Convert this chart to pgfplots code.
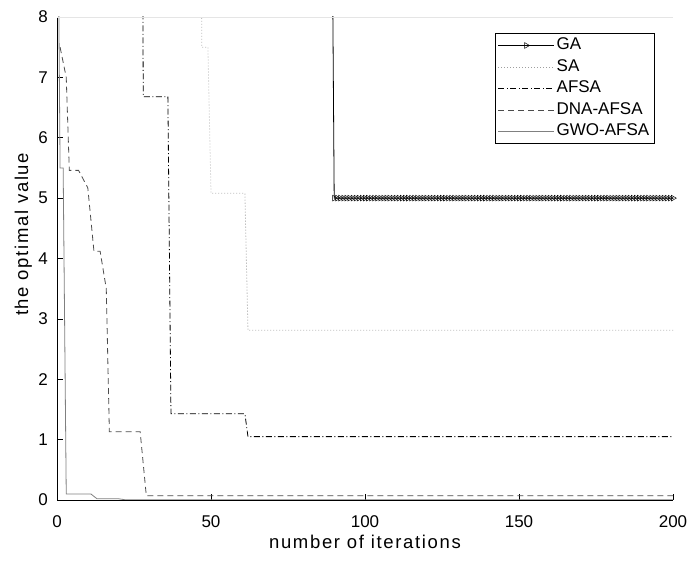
\documentclass[border=0pt]{standalone}
\usepackage{fontspec}
\setmainfont{Liberation Sans}
\newfontfamily\labfont[LetterSpace=9]{Liberation Sans}
\usepackage{pgfplots}
\pgfplotsset{compat=1.18}

\definecolor{dnagray}{gray}{0.3}
\definecolor{gwogray}{gray}{0.5}
\definecolor{sagray}{gray}{0.62}

\begin{document}
\begin{tikzpicture}
\begin{axis}[
  name=ax,
  scale only axis,
  width=616pt, height=483pt,
  xmin=0, xmax=200, ymin=0, ymax=8,
  xtick={0,50,...,200}, ytick={0,1,...,8},
  axis x line*=bottom, axis y line*=left,
  axis line style={-, black, line width=0.6pt},
  tick align=inside, major tick length=6pt,
  tick style={black, line width=0.6pt},
  /pgf/number format/assume math mode=true,
  ticklabel style={font=\fontsize{17}{19}\selectfont},
  xticklabel style={anchor=base, yshift=-28pt},
  yticklabel style={anchor=east, inner sep=0pt, xshift=-9pt},
  xlabel={number of iterations},
  ylabel={the optimal value},
  label style={font=\fontsize{18.5}{20}\labfont},
  xlabel style={at={(axis description cs:0.5,-0.0994)}, anchor=base},
  ylabel style={at={(axis description cs:-0.047,0.55)}, anchor=base},
  legend style={at={(axis description cs:0.97,0.967)}, anchor=north east,
    draw=black, line width=0.6pt, inner xsep=3pt, inner ysep=3pt,
    font=\fontsize{17}{19}\selectfont, row sep=3pt,
    nodes={inner sep=2pt, text height=11.5pt, text depth=3pt}},
  legend cell align=left,
  legend image code/.code={\draw[mark repeat=2,mark phase=2,#1]
    plot coordinates {(0pt,0pt)(28pt,0pt)(56pt,0pt)};},
]
% GA
\addplot[black, line width=0.8pt, mark=triangle, mark size=3.3pt,
  mark options={solid, rotate=-90, line width=0.5pt}] coordinates {
  (0,12)(89,12)
  (90,5)(91,5)(92,5)(93,5)(94,5)(95,5)(96,5)(97,5)(98,5)(99,5)
  (100,5)(101,5)(102,5)(103,5)(104,5)(105,5)(106,5)(107,5)(108,5)(109,5)
  (110,5)(111,5)(112,5)(113,5)(114,5)(115,5)(116,5)(117,5)(118,5)(119,5)
  (120,5)(121,5)(122,5)(123,5)(124,5)(125,5)(126,5)(127,5)(128,5)(129,5)
  (130,5)(131,5)(132,5)(133,5)(134,5)(135,5)(136,5)(137,5)(138,5)(139,5)
  (140,5)(141,5)(142,5)(143,5)(144,5)(145,5)(146,5)(147,5)(148,5)(149,5)
  (150,5)(151,5)(152,5)(153,5)(154,5)(155,5)(156,5)(157,5)(158,5)(159,5)
  (160,5)(161,5)(162,5)(163,5)(164,5)(165,5)(166,5)(167,5)(168,5)(169,5)
  (170,5)(171,5)(172,5)(173,5)(174,5)(175,5)(176,5)(177,5)(178,5)(179,5)
  (180,5)(181,5)(182,5)(183,5)(184,5)(185,5)(186,5)(187,5)(188,5)(189,5)
  (190,5)(191,5)(192,5)(193,5)(194,5)(195,5)(196,5)(197,5)(198,5)(199,5)
  (200,5)
};
\addlegendentry{GA}
% SA
\addplot[sagray, line width=0.8pt, dash pattern=on 0.8pt off 2.2pt] coordinates {
  (0,20)(46,20)(47,7.5)(49,7.5)(50,5.08)(61,5.08)(62,2.81)(200,2.81)
};
\addlegendentry{SA}
% AFSA
\addplot[black, line width=0.8pt, dash pattern=on 6pt off 2.5pt on 1pt off 2.5pt] coordinates {
  (0,20)(27,20)(28,6.68)(36,6.68)(37,1.43)(61,1.43)(62,1.05)(200,1.05)
};
\addlegendentry{AFSA}
% DNA-AFSA
\addplot[dnagray, line width=0.8pt, dash pattern=on 6pt off 4pt] coordinates {
  (1,7.5)(3,7.0)(4,5.46)(7,5.46)(10,5.17)(12,4.12)(14,4.12)(16,3.5)
  (17,1.13)(27,1.13)(29,0.07)(200,0.07)
};
\addlegendentry{DNA-AFSA}
% GWO-AFSA
\addplot[gwogray, line width=0.8pt] coordinates {
  (0,12)(1,5.5)(2,5.5)(3,0.1)(11,0.1)(13,0.02)(20,0.02)(22,0.005)(200,0.005)
};
\addlegendentry{GWO-AFSA}
\draw[gray!20, line width=0.8pt] (rel axis cs:0,1) -- (rel axis cs:1,1);
\end{axis}
\pgfresetboundingbox
\path[use as bounding box] ([xshift=-57pt,yshift=-61pt]ax.south west)
  rectangle ([xshift=17pt,yshift=17pt]ax.north east);
\end{tikzpicture}
\end{document}
